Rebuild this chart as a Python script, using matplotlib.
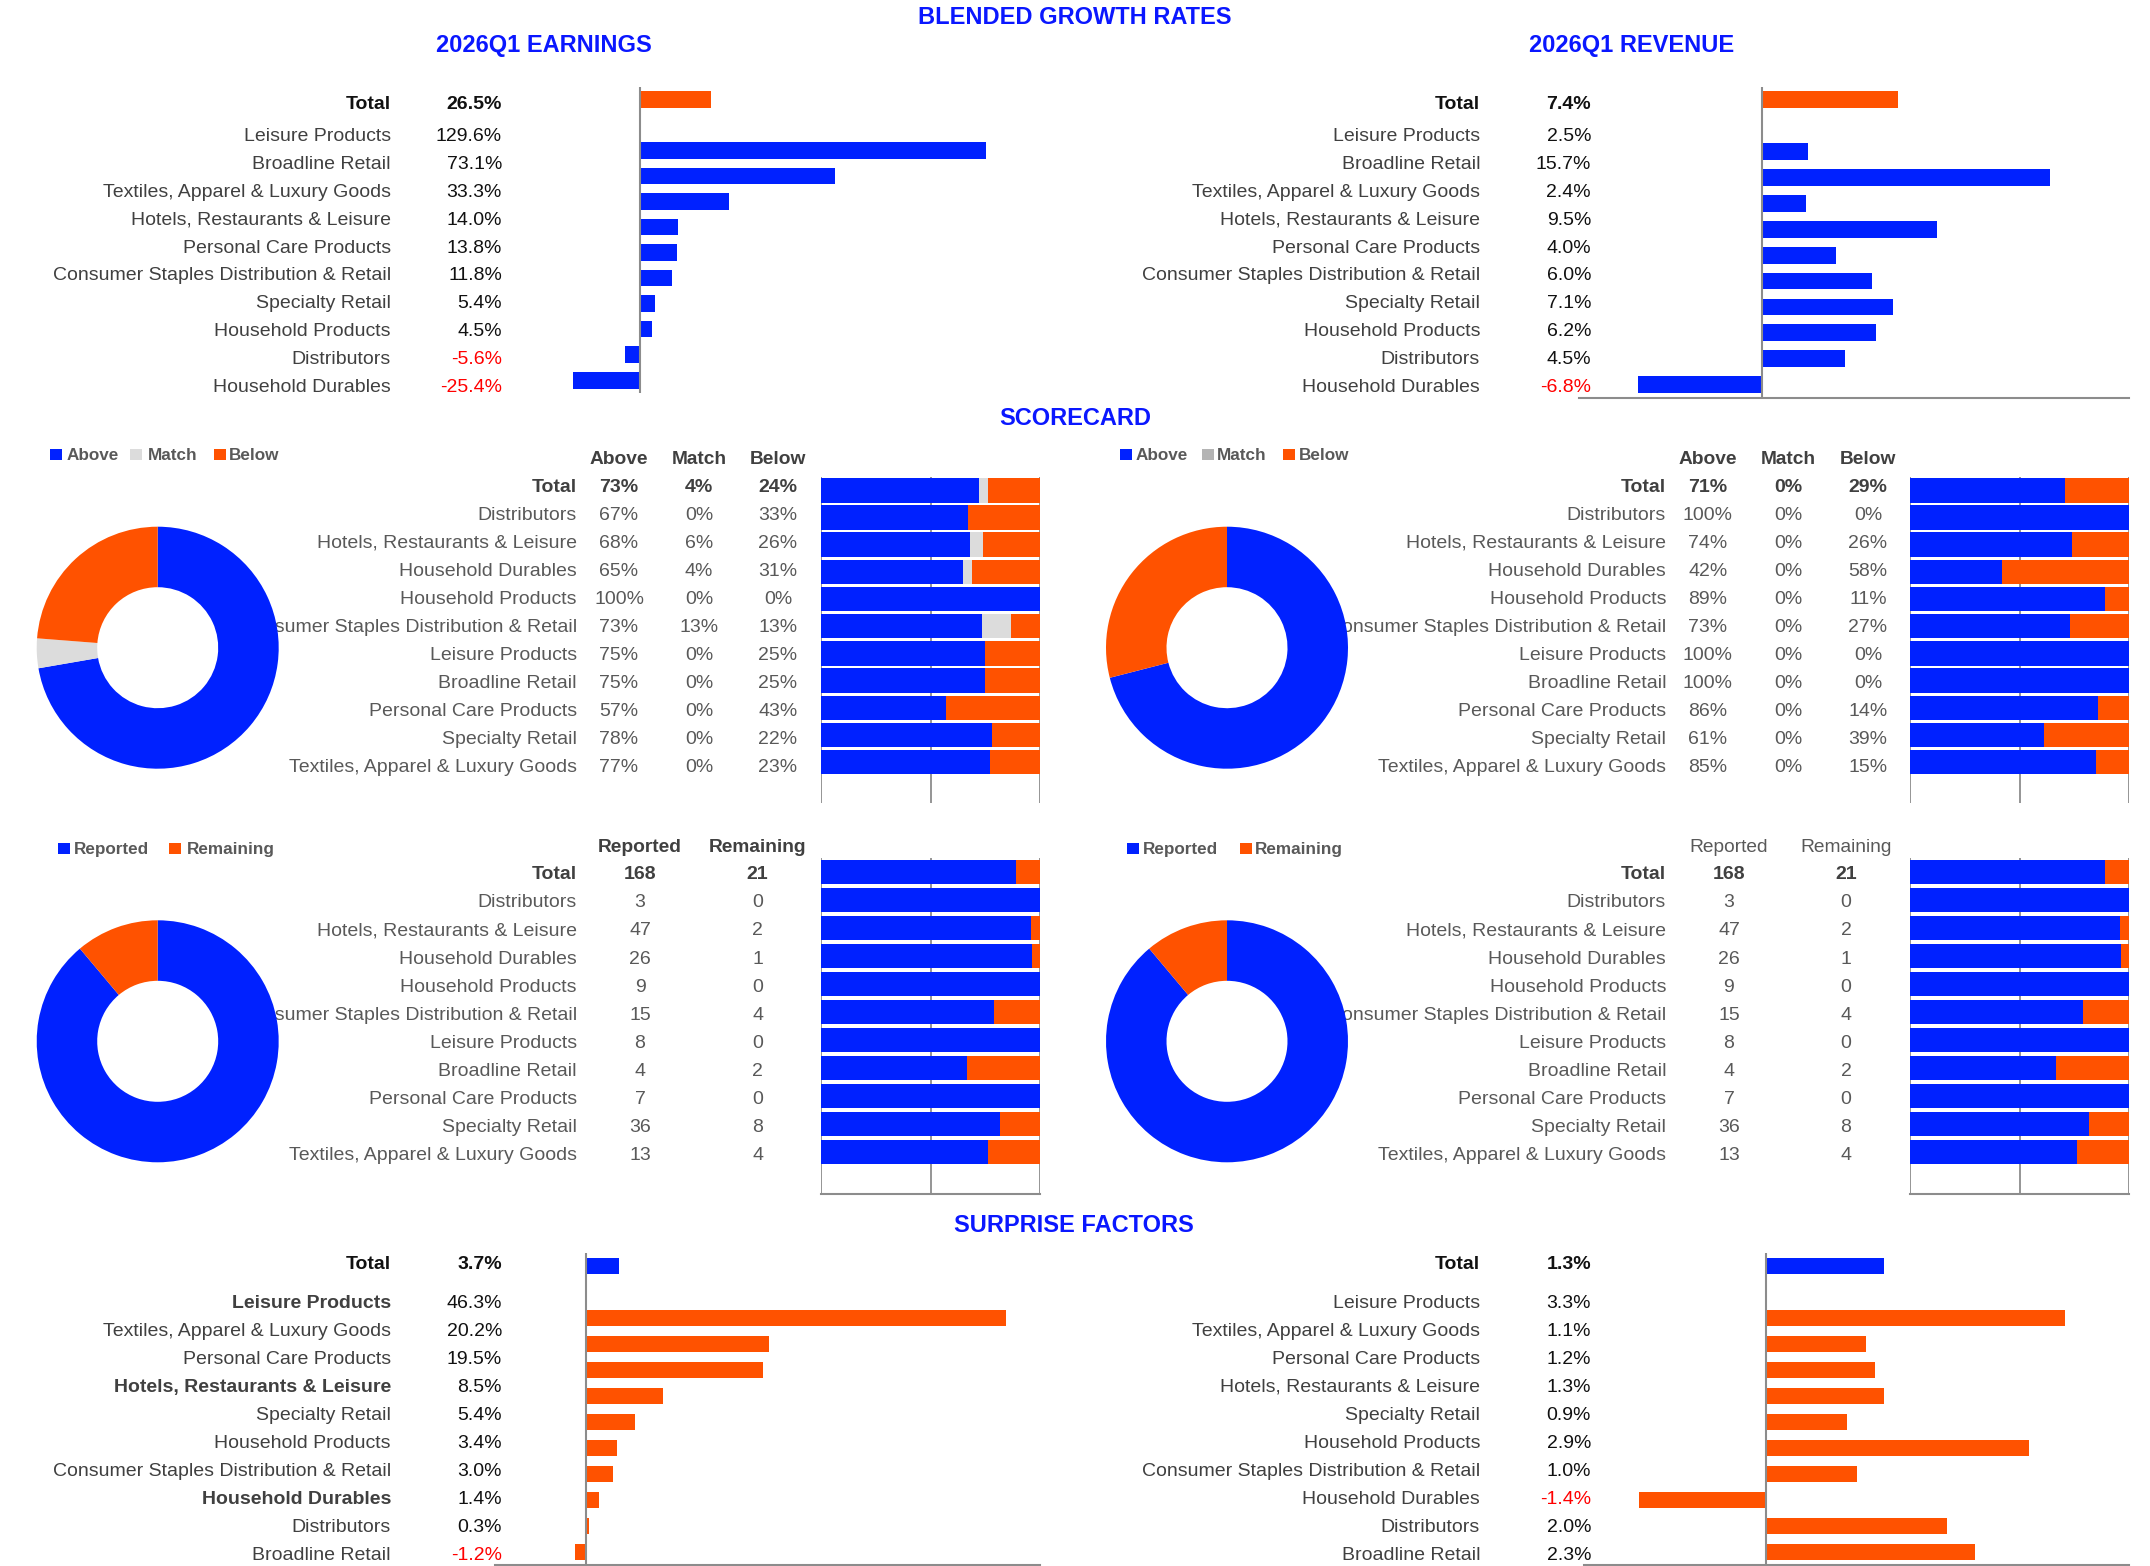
import matplotlib
matplotlib.use('Agg')
import matplotlib.pyplot as plt
from matplotlib.patches import Rectangle
from matplotlib.transforms import Bbox
import numpy as np

plt.rcParams['font.family'] = ['Liberation Sans', 'DejaVu Sans']

# ---------------- DATA ----------------
growth_categories = ['Leisure Products', 'Broadline Retail', 'Textiles, Apparel & Luxury Goods',
                     'Hotels, Restaurants & Leisure', 'Personal Care Products',
                     'Consumer Staples Distribution & Retail', 'Specialty Retail',
                     'Household Products', 'Distributors', 'Household Durables']
earnings_growth = [129.6, 73.1, 33.3, 14.0, 13.8, 11.8, 5.4, 4.5, -5.6, -25.4]
earnings_growth_total = 26.5
revenue_growth = [2.5, 15.7, 2.4, 9.5, 4.0, 6.0, 7.1, 6.2, 4.5, -6.8]
revenue_growth_total = 7.4

score_categories = ['Distributors', 'Hotels, Restaurants & Leisure', 'Household Durables',
                    'Household Products', 'Consumer Staples Distribution & Retail',
                    'Leisure Products', 'Broadline Retail', 'Personal Care Products',
                    'Specialty Retail', 'Textiles, Apparel & Luxury Goods']
eps_above = [67, 68, 65, 100, 73, 75, 75, 57, 78, 77]
eps_match = [0, 6, 4, 0, 13, 0, 0, 0, 0, 0]
eps_below = [33, 26, 31, 0, 13, 25, 25, 43, 22, 23]
eps_score_total = [73, 4, 24]
rev_above = [100, 74, 42, 89, 73, 100, 100, 86, 61, 85]
rev_match = [0, 0, 0, 0, 0, 0, 0, 0, 0, 0]
rev_below = [0, 26, 58, 11, 27, 0, 0, 14, 39, 15]
rev_score_total = [71, 0, 29]

reported = [3, 47, 26, 9, 15, 8, 4, 7, 36, 13]
remaining = [0, 2, 1, 0, 4, 0, 2, 0, 8, 4]
reported_total = 168
remaining_total = 21

surprise_categories = ['Leisure Products', 'Textiles, Apparel & Luxury Goods', 'Personal Care Products',
                       'Hotels, Restaurants & Leisure', 'Specialty Retail', 'Household Products',
                       'Consumer Staples Distribution & Retail', 'Household Durables',
                       'Distributors', 'Broadline Retail']
eps_surprise = [46.3, 20.2, 19.5, 8.5, 5.4, 3.4, 3.0, 1.4, 0.3, -1.2]
eps_surprise_total = 3.7
eps_surprise_bold = ['Leisure Products', 'Hotels, Restaurants & Leisure', 'Household Durables']
rev_surprise = [3.3, 1.1, 1.2, 1.3, 0.9, 2.9, 1.0, -1.4, 2.0, 2.3]
rev_surprise_total = 1.3

# ---------------- STYLE ----------------
BLUE = '#0021FF'
ORANGE = '#FF5200'
LGRAY = '#DCDCDC'
MGRAY = '#B4B4B4'
TITLE = '#0A17FF'
GRID = '#8C8C8C'
LABEL = '#404040'
SOFT = '#595959'
RED = '#FF0000'

W, H = 2150, 1566
fig = plt.figure(figsize=(W / 100, H / 100), dpi=100)
canvas = fig.add_axes([0, 0, 1, 1])
canvas.set_xlim(0, W)
canvas.set_ylim(H, 0)
canvas.axis('off')


def px_axes(x0, y0, x1, y1):
    ax = fig.add_axes([x0 / W, 1 - y1 / H, (x1 - x0) / W, (y1 - y0) / H])
    ax.patch.set_alpha(0)
    return ax


def txt(x, y, s, ha='right', size=14, bold=False, color=LABEL, clip=None):
    base = y + 0.355 * size * 100 / 72
    t = canvas.text(x, base, s, ha=ha, va='baseline', fontsize=size,
                    fontweight='bold' if bold else 'normal', color=color)
    if clip is not None:
        t.set_clip_on(True)
        t.set_clip_box(Bbox.from_extents(clip[0], 0, clip[1], H))
    return t


def growth_bars(rect, vals, total, xlim, total_color, cat_color, bottom_line):
    ax = px_axes(*rect)
    n = len(vals)
    ax.barh([0], [total], height=0.65, color=total_color, zorder=2)
    ax.barh(np.arange(2, n + 2), vals, height=0.65, color=cat_color, zorder=2)
    ax.set_xlim(*xlim)
    ax.set_ylim(n + 1.5, -0.5)
    ax.axvline(0, color=GRID, lw=1.5, zorder=3)
    for s in ['top', 'right', 'left']:
        ax.spines[s].set_visible(False)
    ax.spines['bottom'].set_visible(bottom_line)
    ax.spines['bottom'].set_color(GRID)
    ax.spines['bottom'].set_linewidth(1.5)
    ax.set_xticks([])
    ax.set_yticks([])
    return ax


def growth_table(lx, vx, y_total, y_first, dy, cats, vals, total, bold_set=()):
    txt(lx, y_total, 'Total', bold=True, color='#111111')
    txt(vx, y_total, f'{total:.1f}%', bold=True, color='#111111')
    for i, (c, v) in enumerate(zip(cats, vals)):
        y = y_first + i * dy
        txt(lx, y, c, bold=(c in bold_set), color=LABEL)
        txt(vx, y, f'{v:.1f}%', color=RED if v < 0 else '#111111')


def stacked_bars(rect, parts, colors, height, bottom_line):
    ax = px_axes(*rect)
    arr = np.array(parts, dtype=float)
    frac = arr / arr.sum(axis=0)
    pos = np.arange(arr.shape[1])
    left = np.zeros(arr.shape[1])
    for row, c in zip(frac, colors):
        ax.barh(pos, row, left=left, height=height, color=c, zorder=2, linewidth=0)
        left += row
    ax.set_xlim(0, 1)
    ax.set_ylim(arr.shape[1] + 0.5, -0.5)
    for x in [0, 0.5, 1]:
        ax.axvline(x, color=GRID, lw=1.3, zorder=1)
    for s in ['top', 'right', 'left']:
        ax.spines[s].set_visible(False)
    ax.spines['bottom'].set_visible(bottom_line)
    ax.spines['bottom'].set_color(GRID)
    ax.spines['bottom'].set_linewidth(1.5)
    ax.set_xticks([])
    ax.set_yticks([])
    return ax


def donut(cx, cy, r, values, colors):
    ax = px_axes(cx - r, cy - r, cx + r, cy + r)
    ax.pie(values, colors=colors, startangle=90, counterclock=False, radius=1,
           wedgeprops=dict(width=0.5, linewidth=0))
    ax.set_xlim(-1, 1)
    ax.set_ylim(-1, 1)
    ax.set_aspect('equal')
    ax.axis('off')
    return ax


def legend(items, y):
    for x_sq, x_txt, color, label in items:
        canvas.add_patch(Rectangle((x_sq, y - 5.5), 11.5, 11.5, color=color, lw=0))
        txt(x_txt, y, label, ha='left', size=12.3, bold=True, color=SOFT)


# ---------------- TITLES ----------------
txt(1075, 16, 'BLENDED GROWTH RATES', ha='center', size=17, bold=True, color=TITLE)
txt(544, 44, '2026Q1 EARNINGS', ha='center', size=17, bold=True, color=TITLE)
txt(1632, 44, '2026Q1 REVENUE', ha='center', size=17, bold=True, color=TITLE)
txt(1075, 417, 'SCORECARD', ha='center', size=17, bold=True, color=TITLE)
txt(1074, 1224, 'SURPRISE FACTORS', ha='center', size=17, bold=True, color=TITLE)

# ---------------- GROWTH RATES ----------------
growth_table(391, 502, 102, 134, 27.9, growth_categories, earnings_growth, earnings_growth_total)
growth_bars((507, 86.5, 1040, 393), earnings_growth, earnings_growth_total, (-50, 150), ORANGE, BLUE, False)
growth_table(1480, 1591, 102, 134, 27.9, growth_categories, revenue_growth, revenue_growth_total)
growth_bars((1579, 86.8, 2129, 397.6), revenue_growth, revenue_growth_total, (-10, 20), ORANGE, BLUE, True)

# ---------------- SCORECARD ----------------
def score_table(lx, cols, clip_x, above, match, below, tot):
    for x, h in zip(cols, ['Above', 'Match', 'Below']):
        txt(x, 456.7, h, ha='center', size=13.8, bold=True, color=LABEL)
    txt(lx, 485, 'Total', bold=True, color=LABEL)
    for x, v in zip(cols, tot):
        txt(x, 485, f'{v}%', ha='center', bold=True, color=LABEL)
    for i, c in enumerate(score_categories):
        y = 485 + (i + 1) * 28
        txt(lx, y, c, color=SOFT, clip=(clip_x, W))
        for x, v in zip(cols, (above[i], match[i], below[i])):
            txt(x, y, f'{v}%', ha='center', color=SOFT)


legend([(50, 66.5, BLUE, 'Above'), (130, 148, LGRAY, 'Match'), (214, 229, ORANGE, 'Below')], 454)
legend([(1120, 1136, BLUE, 'Above'), (1202, 1217, MGRAY, 'Match'), (1283, 1299, ORANGE, 'Below')], 454)

score_table(577, (619, 699, 778), 274, eps_above, eps_match, eps_below, eps_score_total)
score_table(1666, (1708, 1788, 1868), 1344, rev_above, rev_match, rev_below, rev_score_total)

stacked_bars((821, 476.7, 1040, 803),
             [[eps_score_total[0]] + eps_above, [eps_score_total[1]] + eps_match,
              [eps_score_total[2]] + eps_below],
             [BLUE, LGRAY, ORANGE], 0.9, False)
stacked_bars((1910, 476.7, 2129, 803),
             [[rev_score_total[0]] + rev_above, [rev_score_total[1]] + rev_match,
              [rev_score_total[2]] + rev_below],
             [BLUE, MGRAY, ORANGE], 0.9, False)

donut(157.7, 647.7, 121, eps_score_total, [BLUE, LGRAY, ORANGE])
donut(1227, 647.7, 121, rev_score_total, [BLUE, MGRAY, ORANGE])

# ---------------- REPORTED ----------------
def reported_table(lx, cols, clip_x, bold_head):
    for x, h in zip(cols, ['Reported', 'Remaining']):
        txt(x, 845, h, ha='center', size=13.8, bold=bold_head, color=LABEL if bold_head else SOFT)
    txt(lx, 872.3, 'Total', bold=True, color=LABEL)
    for x, v in zip(cols, (reported_total, remaining_total)):
        txt(x, 872.3, f'{v}', ha='center', bold=True, color=LABEL)
    for i, c in enumerate(score_categories):
        y = 872.3 + (i + 1) * 28.1
        txt(lx, y, c, color=SOFT, clip=(clip_x, W))
        for x, v in zip(cols, (reported[i], remaining[i])):
            txt(x, y, f'{v}', ha='center', color=SOFT)


legend([(58, 73.4, BLUE, 'Reported'), (169, 186.5, ORANGE, 'Remaining')], 848)
legend([(1127, 1143, BLUE, 'Reported'), (1240, 1255, ORANGE, 'Remaining')], 848)

reported_table(577, (640, 757.6), 274, True)
reported_table(1666, (1729, 1846), 1344, False)

stacked_bars((821, 857.8, 1040, 1193.8),
             [[reported_total] + reported, [remaining_total] + remaining],
             [BLUE, ORANGE], 0.85, True)
stacked_bars((1910, 857.8, 2129, 1193.8),
             [[reported_total] + reported, [remaining_total] + remaining],
             [BLUE, ORANGE], 0.85, True)

donut(157.7, 1041.3, 121, [reported_total, remaining_total], [BLUE, ORANGE])
donut(1227, 1041.3, 121, [reported_total, remaining_total], [BLUE, ORANGE])

# ---------------- SURPRISE FACTORS ----------------
growth_table(391, 502, 1262, 1301, 28, surprise_categories, eps_surprise, eps_surprise_total,
             bold_set=eps_surprise_bold)
growth_bars((495, 1253, 1040, 1565), eps_surprise, eps_surprise_total, (-10, 50), BLUE, ORANGE, True)
growth_table(1480, 1591, 1262, 1301, 28, surprise_categories, rev_surprise, rev_surprise_total)
growth_bars((1584, 1253, 2129, 1565), rev_surprise, rev_surprise_total, (-2, 4), BLUE, ORANGE, True)

fig.savefig('out.png', dpi=100, facecolor='white')
